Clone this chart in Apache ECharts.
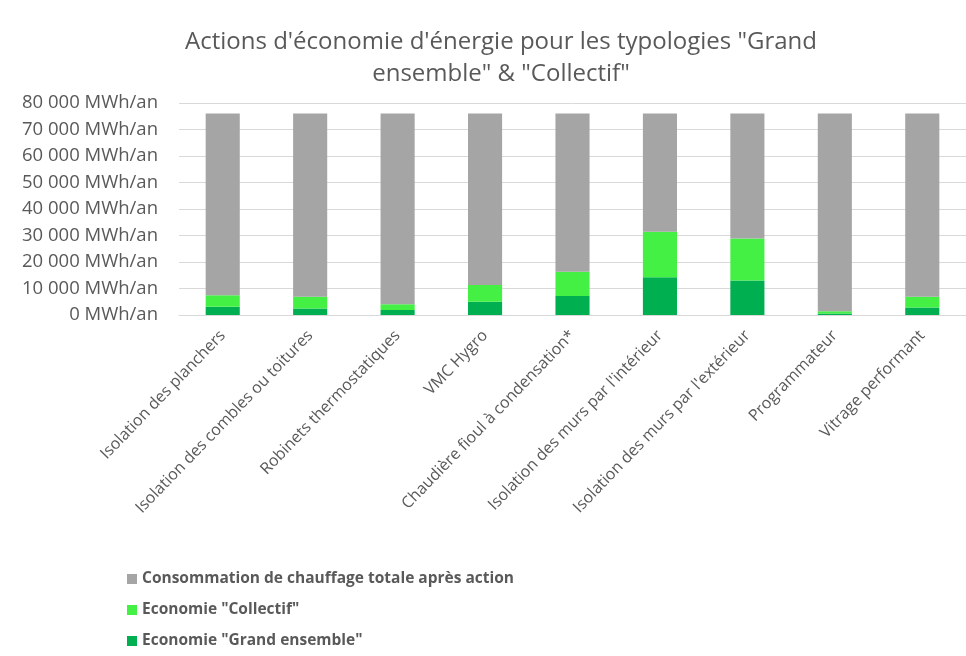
<!DOCTYPE html>
<html>
<head>
<meta charset="utf-8">
<script src="https://cdn.jsdelivr.net/npm/echarts@6/dist/echarts.min.js"></script>
<style>html,body{margin:0;padding:0;background:#fff;}#c{width:966px;height:656px;}</style>
</head>
<body>
<div id="c"></div>
<script>
const categories = ["Isolation des planchers","Isolation des combles ou toitures","Robinets thermostatiques","VMC Hygro","Chaudière fioul à condensation*","Isolation des murs par l'intérieur","Isolation des murs par l'extérieur","Programmateur","Vitrage performant"];
const grandEnsemble = [3100, 2500, 1900, 5000, 7200, 14200, 13000, 600, 2800];
const collectif = [4400, 4400, 2200, 6300, 9100, 17200, 15900, 800, 4100];
const consoApres = [68500, 69100, 71900, 64700, 59700, 44600, 47100, 74600, 69100];
const seriesNames = ["Consommation de chauffage totale après action", "Economie \"Collectif\"", "Economie \"Grand ensemble\""];
const yTicks = [0, 10000, 20000, 30000, 40000, 50000, 60000, 70000, 80000];

const chart = echarts.init(document.getElementById('c'));
const font = "'Open Sans', 'Noto Sans', sans-serif";
function fmt(v){ return String(v).replace(/\B(?=(\d{3})+(?!\d))/g, ' ') + ' MWh/an'; }
chart.setOption({
  animation: false,
  title: {
    text: 'Actions d\'économie d\'énergie pour les typologies "Grand\nensemble" & "Collectif"',
    left: 496, top: 21, textAlign: 'center',
    textStyle: { fontFamily: font, fontSize: 24, fontWeight: 'normal', color: '#595959', lineHeight: 32 }
  },
  legend: {
    data: seriesNames,
    orient: 'vertical', left: 122, top: 566,
    itemWidth: 10, itemHeight: 10, itemGap: 15, icon: 'rect',
    textStyle: { fontFamily: font, fontSize: 15.5, fontWeight: 'bold', color: '#595959' }
  },
  grid: { left: 179, top: 103, width: 787, height: 212 },
  xAxis: {
    type: 'category', data: categories,
    axisLine: { lineStyle: { color: '#d9d9d9' } },
    axisTick: { show: false },
    axisLabel: { rotate: 46, interval: 0, margin: 18, fontFamily: font, fontSize: 16, color: '#595959' }
  },
  yAxis: {
    type: 'value', min: yTicks[0], max: yTicks[yTicks.length-1], interval: 10000,
    axisLine: { show: false }, axisTick: { show: false },
    splitLine: { lineStyle: { color: '#d9d9d9' } },
    axisLabel: { formatter: fmt, margin: 21, fontFamily: font, fontSize: 18.5, color: '#595959' }
  },
  series: [
    { name: seriesNames[2], type: 'bar', stack: 't', data: grandEnsemble, barWidth: '39%', itemStyle: { color: '#00B050' } },
    { name: seriesNames[1], type: 'bar', stack: 't', data: collectif, itemStyle: { color: '#44F044' } },
    { name: seriesNames[0], type: 'bar', stack: 't', data: consoApres, itemStyle: { color: '#A5A5A5' } }
  ]
});
</script>
</body>
</html>
